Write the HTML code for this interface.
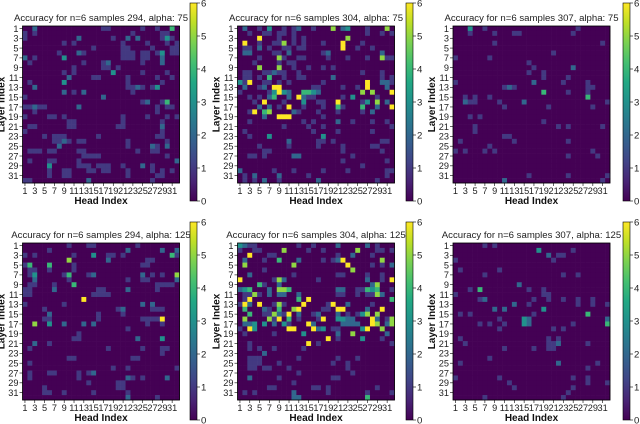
<!DOCTYPE html>
<html><head><meta charset="utf-8"><style>
body{margin:0;background:#fff;}
svg{display:block;font-family:"Liberation Sans","DejaVu Sans",sans-serif;}
</style></head><body>
<svg id="fig" width="640" height="424" viewBox="0 0 640 424"></svg>
<script>
const titles=["Accuracy for n=6 samples 294, alpha: 75","Accuracy for n=6 samples 304, alpha: 75","Accuracy for n=6 samples 307, alpha: 75","Accuracy for n=6 samples 294, alpha: 125","Accuracy for n=6 samples 304, alpha: 125","Accuracy for n=6 samples 307, alpha: 125"];
const cbTicks=[0,1,2,3,4,5,6];
const axisTicks=[1,3,5,7,9,11,13,15,17,19,21,23,25,27,29,31];
const p1=["00200000000000001100000010010040","10100000000000000000001000001100","10000000000200000010020200001310","00000000101000000000100001000101","00000000000000100000110000100011","00000001000210000000111011013011","20100000300000000000111011002000","01000000000010001200000010002000","00000000001000001101000000000000","00000000101000000030000010000100","00000000020000110000010000010010","01000000300000000000010000001000","00200000000000000000011210130000","00000000201020000000001000000000","10000000000000002000000000000000","00000000000000000000000012001400","11211000000200000000000000010110","00100000000000000000000000010000","10000110100000000000100001000101","00000000011000000000100000001000","01100000011000000001100000002000","10000000000000000000000000001000","00001011100000010000000000011000","00000011210110000000010000000100","00000002000000000000010000210200","01110110000110000000000100110000","00000000000011110000000000000100","01000110000100000000000000000002","00000300000111011100100020100000","00000100110001101100010000101010","00000100110000000000010000011000","11000000000002000000000000100000"];
const p2=["02001030010120010005023000100050","00100110110100000000000000100101","00006000100101000000005000000000","06001001150101000100060001000000","01102010011011000000060010010000","02200001102000000120000000000200","00001000510011000010001000100511","00010000101100000000000000000000","00005000500100100101000000000000","01100112110010000000000001000100","01101040010011000002000000000101","31600110101000000100000000600221","02001206600000011000010010600020","10000013632004432000000005050006","00101024002062110000010300001000","00010600010003001100600001305020","00002020106001000100410004002006","00160450000210001000100001020000","00000200666000000100000000000000","00100000000001010000200100010010","00000000010000100100000000000001","01000000000000010000100000010000","00100030000000000300000000000000","00000000002000001101000000000110","00001000001000001000010000011000","00000110000000000000010000000100","00110100000220000000000100000000","00000000000000000000010000000010","00000000000000000000000001000000","20000001000100000100001000000011","01020000200000100000000000000010","01010200100000002000000000001000"];
const p3=[[1,4,3],[1,7,1],[1,26,1],[2,4,1],[2,9,1],[2,13,1],[2,14,1],[2,25,1],[4,9,1],[4,31,1],[6,21,1],[7,1,1],[7,8,1],[8,16,1],[9,17,1],[9,25,2],[10,16,1],[10,19,1],[11,19,1],[11,24,1],[12,1,1],[12,17,2],[12,23,1],[12,28,1],[13,11,1],[13,12,2],[13,13,1],[13,28,1],[13,29,1],[14,19,4],[14,24,1],[14,28,1],[15,3,1],[15,5,1],[15,8,1],[15,28,4],[16,3,2],[16,4,1],[16,5,1],[16,10,1],[16,15,2],[16,32,1],[17,11,1],[17,20,1],[17,29,1],[19,4,1],[19,6,1],[20,19,1],[21,5,1],[21,22,1],[21,24,1],[21,31,1],[22,5,1],[23,11,1],[23,12,1],[24,2,1],[24,13,1],[24,24,1],[25,8,1],[26,1,1],[26,3,1],[26,7,1],[26,9,1],[26,29,1],[27,24,1],[27,30,1],[31,16,1],[31,24,1],[31,32,1],[32,11,2],[32,31,1]];
const p4=["00000000010001100000000100000000","00000100000000000000020000002002","10100000001000300110100000000041","00000000050000000200000001100000","14000400001000000000000011000000","01100100001000000000000000000000","01300000140001200000000020101005","00200000010000000000010011000002","01100010004000000000000000011110","11000020000000011000020000010000","11000000000000111100000000000000","00000000000060000000000000000000","10000000100000000000000020200000","00001000000000000001200000111000","00000200000000010000100000000000","00001100000000010000000011116000","00500300200020200000000001001000","00000000000000000000010000000000","00000000000100000000000000000000","00000000001100000000000200003000","00200100000000000000000000000000","01000000000000000100000010001100","00000000000000000000000000001000","00000000011000000000001100000000","01000000000000000000000000000000","00000000000000000010010000000001","01000110000101200000000000000000","01000000000100000000021010000200","00000000000001000001100000000000","00001000000000000001100000000000","00001100100000100000010000000000","00000000000000000000020000010000"];
const p5=["32110000000010010000200000201000","10011000050000100100000050001101","00600011000000000000100200010000","02000100400020000101260000000500","05000000000500000000006000010102","00000100000000000000000500000000","00200000000100000000110000100100","60000001520000001000000000200106","00004100200000000000000000025000","23400020554000000000220011434001","01151020220020000000110010115200","01600000000040600000000000000004","16206001510006000016002000010000","04000210400560000110660000200600","00400115216020012000201013505000","05000051604010001600332200062015","02230302031000620000022220065025","10630000006600062301100003600500","01000001000003000000200500000020","00000000000000000060100003000100","00100000000000601000000000000001","00101001000001000000000000000000","00000200000000000000000000000000","00111000000010000000100010000000","00111000100000000001001000000000","00110110001000000000001000000000","00000000000010000000000100000000","00200000100000000001100000000000","00000000000100000000000000000000","00000011000000011010000000001000","01010000000200000010000000100001","00000000000220000000000000400000"];
const p6=[[1,7,1],[1,9,1],[2,18,3],[2,25,1],[3,20,2],[3,22,1],[3,23,1],[4,1,1],[4,21,1],[6,2,1],[6,10,1],[7,7,1],[7,23,1],[7,26,1],[9,14,2],[10,4,1],[10,6,4],[10,16,1],[10,19,1],[11,1,1],[11,19,1],[11,20,1],[12,6,1],[12,7,2],[12,17,1],[12,20,1],[12,23,1],[12,26,1],[12,29,1],[13,13,2],[13,16,1],[13,26,1],[13,29,1],[13,32,1],[14,9,2],[14,11,2],[14,19,3],[15,2,1],[15,4,1],[15,17,1],[15,28,4],[16,10,1],[16,15,3],[16,16,2],[16,32,2],[17,6,1],[17,8,1],[17,11,1],[17,15,3],[17,16,2],[17,25,1],[17,32,4],[18,10,1],[18,21,1],[18,23,1],[20,2,1],[20,20,1],[20,22,1],[21,3,1],[21,20,1],[21,21,1],[21,22,2],[21,28,1],[22,11,1],[22,17,1],[22,20,1],[22,21,1],[24,8,1],[25,2,1],[25,22,2],[25,30,1],[26,28,1],[28,1,1],[28,10,1],[28,25,1],[28,28,1],[29,12,1],[29,28,1],[29,32,1],[30,13,1],[30,25,1],[31,24,1],[32,7,1],[32,23,1]];

const VS=[[68,1,84],[72,36,117],[65,68,135],[53,95,141],[42,120,142],[33,145,140],[34,168,132],[68,191,112],[122,209,81],[189,223,38],[253,231,37]];
function viridis(t){t=Math.max(0,Math.min(1,t));const f=t*10,i=Math.min(9,Math.floor(f)),r=f-i;const a=VS[i],b=VS[i+1];return `rgb(${a.map((v,k)=>Math.round(v+(b[k]-v)*r)).join(',')})`;}
function toGrid(src){const g=[];for(let r=0;r<32;r++){g.push(new Array(32).fill(0));}
  if(typeof src[0]==='string'){src.slice(0,32).forEach((s,r)=>{for(let c=0;c<32;c++)g[r][c]=parseInt(s[c]||'0');});}
  else src.forEach(([r,c,v])=>{g[r-1][c-1]=v;});return g;}
const data=[p1,p2,p3,p4,p5,p6].map(toGrid);
const NS="http://www.w3.org/2000/svg",svg=document.getElementById('fig');
function el(tag,attrs,parent,text){const e=document.createElementNS(NS,tag);for(const k in attrs)e.setAttribute(k,attrs[k]);if(text!==undefined)e.textContent=text;(parent||svg).appendChild(e);return e;}
const GX=[22.5,237.5,453],GY=[26,243],SZ=157,CBX=[190,406,623],CBY=[3,222],CBH=198,VMAX=6;
const defs=el('defs',{});
const lg=el('linearGradient',{id:'vg',x1:0,y1:1,x2:0,y2:0},defs);
for(let i=0;i<=10;i++)el('stop',{offset:i/10,'stop-color':viridis(i/10)},lg);
data.forEach((grid,p)=>{
  const gx=GX[p%3],gy=GY[Math.floor(p/3)],cbx=CBX[p%3],cby=CBY[Math.floor(p/3)];
  const g=el('g',{});
  
  
  const cs=SZ/32;
  const xs=c=>gx+c*cs, ys=r=>gy+r*cs, col=v=>viridis(v/VMAX);
  for(let r=0;r<32;r++)for(let c=0;c<32;c++){
    const rc=el('rect',{x:xs(c).toFixed(2),y:ys(r).toFixed(2),width:(cs+0.3).toFixed(2),height:(cs+0.3).toFixed(2),fill:col(grid[r][c])},g);
    
    
  }
  el('rect',{x:gx,y:gy,width:SZ,height:SZ,fill:'none',stroke:'#000','stroke-width':0.8},g);
  const t=el('text',{x:gx+SZ/2,y:gy-5,'text-anchor':'middle','font-size':9.6,fill:'#222'},g,titles[p]);
  
  
  axisTicks.forEach(v=>{
    const yy=ys(v-0.5);
    el('line',{x1:gx-3,x2:gx,y1:yy,y2:yy,stroke:'#000','stroke-width':0.6},g);
    const yl=el('text',{x:gx-4,y:yy+3.3,'text-anchor':'end','font-size':9.2,fill:'#222'},g,String(v));
    
    
    const xx=xs(v-0.5);
    el('line',{x1:xx,x2:xx,y1:gy+SZ,y2:gy+SZ+3,stroke:'#000','stroke-width':0.6},g);
    const xl=el('text',{x:xx,y:gy+SZ+11,'text-anchor':'middle','font-size':9.2,fill:'#222'},g,String(v));
    
    
  });
  const xt=el('text',{x:gx+SZ/2,y:gy+SZ+21,'text-anchor':'middle','font-size':10,'font-weight':'bold',fill:'#111'},g,'Head Index');
  
  
  const yt=el('text',{x:0,y:0,transform:`translate(${gx-18},${gy+SZ/2}) rotate(-90)`,'text-anchor':'middle','font-size':10,'font-weight':'bold',fill:'#111'},g,'Layer Index');
  
  
  const cb=el('rect',{x:cbx,y:cby,width:7,height:CBH,fill:'url(#vg)',stroke:'#000','stroke-width':0.6},g);
  
  
  cbTicks.forEach(v=>{
    const yy=cby+CBH-v/VMAX*CBH;
    el('line',{x1:cbx+7,x2:cbx+10,y1:yy,y2:yy,stroke:'#000','stroke-width':0.6},g);
    const cl=el('text',{x:cbx+11,y:yy+3.5,'font-size':9.6,fill:'#222'},g,String(v));
    
    
  });
});
</script>
</body></html>
